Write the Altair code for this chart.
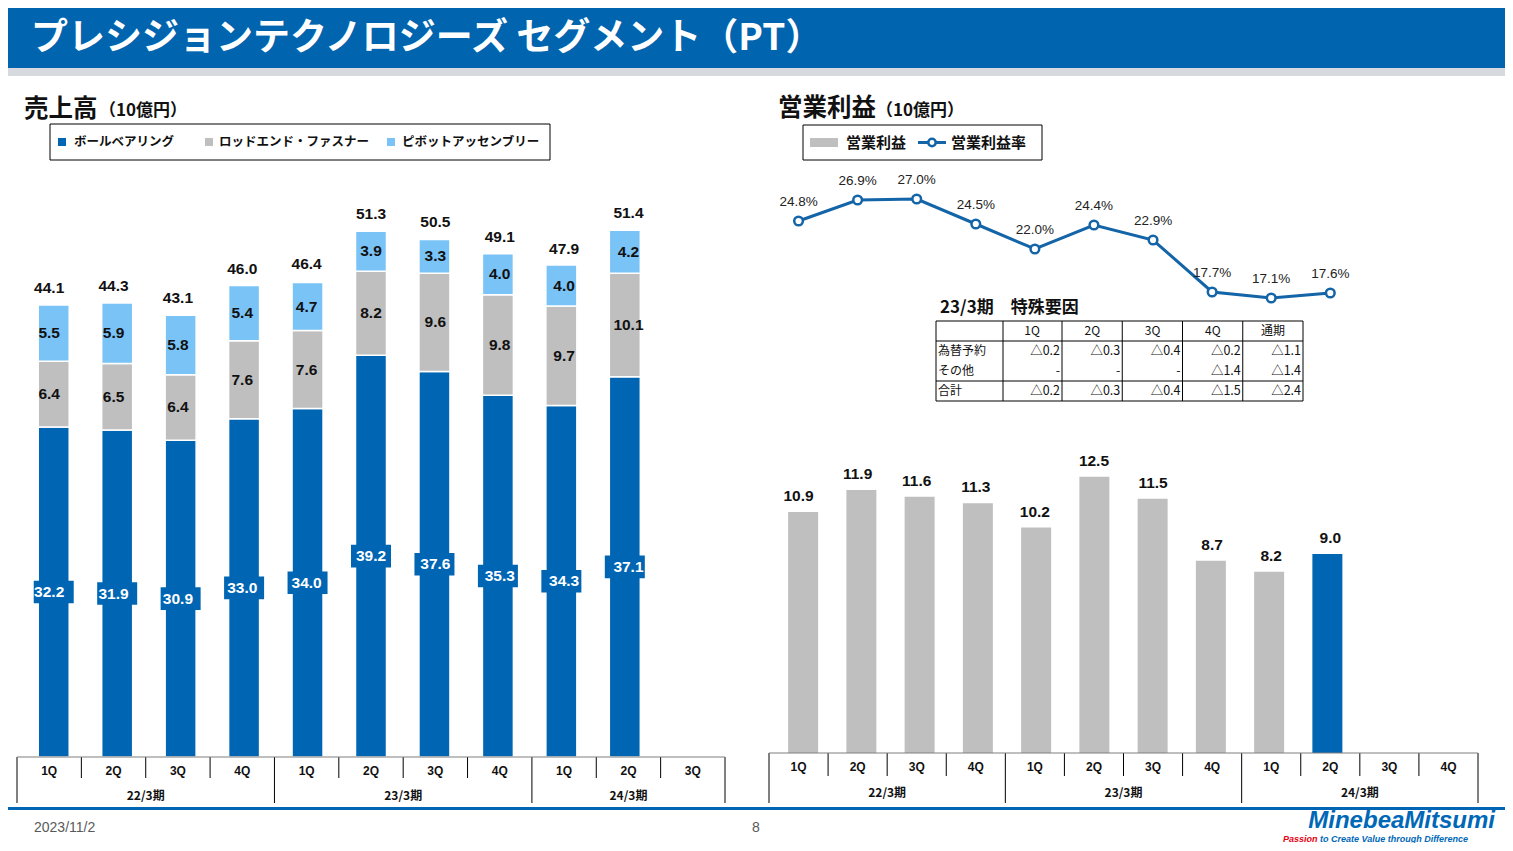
import altair as alt
import pandas as pd

# ---------------- data ----------------
periods_left = ["22/3期"] * 4 + ["23/3期"] * 4 + ["24/3期"] * 3
quarters_left = ["1Q", "2Q", "3Q", "4Q"] * 2 + ["1Q", "2Q", "3Q"]
series_names = ["ボールベアリング", "ロッドエンド・ファスナー", "ピボットアッセンブリー"]
ball = [32.2, 31.9, 30.9, 33.0, 34.0, 39.2, 37.6, 35.3, 34.3, 37.1]
rod = [6.4, 6.5, 6.4, 7.6, 7.6, 8.2, 9.6, 9.8, 9.7, 10.1]
pivot = [5.5, 5.9, 5.8, 5.4, 4.7, 3.9, 3.3, 4.0, 4.0, 4.2]
sales_total = [44.1, 44.3, 43.1, 46.0, 46.4, 51.3, 50.5, 49.1, 47.9, 51.4]

periods_right = ["22/3期"] * 4 + ["23/3期"] * 4 + ["24/3期"] * 4
quarters_right = ["1Q", "2Q", "3Q", "4Q"] * 3
op_income = [10.9, 11.9, 11.6, 11.3, 10.2, 12.5, 11.5, 8.7, 8.2, 9.0]
op_margin = [24.8, 26.9, 27.0, 24.5, 22.0, 24.4, 22.9, 17.7, 17.1, 17.6]
latest_index = 9
legend_right = ["営業利益", "営業利益率"]

table_title = "23/3期　特殊要因"
table_cols = ["1Q", "2Q", "3Q", "4Q", "通期"]
table_rows = ["為替予約", "その他", "合計"]
table_fx = ["△0.2", "△0.3", "△0.4", "△0.2", "△1.1"]
table_other = ["-", "-", "-", "△1.4", "△1.4"]
table_total = ["△0.2", "△0.3", "△0.4", "△1.5", "△2.4"]

title_text = "プレシジョンテクノロジーズ セグメント（PT）"
date_text = "2023/11/2"
page_text = "8"

# ---------------- style ----------------
OFF = 8
W, H = 1497, 835
BLUE = "#0066B3"
HEAD = "#0064AF"
LINE = "#1464A8"
GRAY = "#BFBFBF"
LBLUE = "#7AC3F6"
DARK = "#111111"
JP = "Noto Sans CJK JP"
LAT = "Liberation Sans"

base = alt.Chart(pd.DataFrame({"k": [0]}))


def T(text, x, y, size, color=DARK, weight="normal", font=JP, align="left", italic=False):
    kw = dict(text=text, align=align, baseline="middle", fontSize=size,
              fontWeight=weight, font=font, color=color)
    if italic:
        kw["fontStyle"] = "italic"
    return base.mark_text(**kw).encode(x=alt.value(x - OFF), y=alt.value(y - OFF))


def R(x1, x2, y1, y2, fill, stroke=None, sw=1):
    kw = dict(color=fill)
    if stroke:
        kw = dict(fill=fill, stroke=stroke, strokeWidth=sw)
    return base.mark_rect(**kw).encode(
        x=alt.value(x1 - OFF), x2=alt.value(x2 - OFF),
        y=alt.value(y1 - OFF), y2=alt.value(y2 - OFF))


def HL(x1, x2, y, color="#000000", sw=1):
    return base.mark_rule(color=color, strokeWidth=sw).encode(
        x=alt.value(x1 - OFF), x2=alt.value(x2 - OFF), y=alt.value(y - OFF))


def VL(x, y1, y2, color="#000000", sw=1):
    return base.mark_rule(color=color, strokeWidth=sw).encode(
        x=alt.value(x - OFF), y=alt.value(y1 - OFF), y2=alt.value(y2 - OFF))


layers = []

# ---------------- header / footer ----------------
layers.append(R(0, W + OFF * 2, 0, 68, HEAD))
layers.append(R(0, W + OFF * 2, 68, 76, "#D6D9DD"))
layers.append(T(title_text, 31, 39, 37, color="white", weight="bold"))
layers.append(HL(0, W + OFF * 2, 808.5, color=BLUE, sw=3))
layers.append(T(date_text, 34, 828, 14, color="#595959", font=LAT))
layers.append(T(page_text, 756, 828, 14, color="#595959", font=LAT, align="center"))
layers.append(T("MinebeaMitsumi", 1495, 821, 24, color="#0068B7", weight="bold",
                font=LAT, align="right", italic=True))
layers.append(T("Passion", 1283, 838.5, 9, color="#E60012", weight="bold", font=LAT, italic=True))
layers.append(T("to Create Value through Difference", 1320, 838.5, 9, color="#0068B7",
                weight="bold", font=LAT, italic=True))

# ---------------- section titles & legends ----------------
layers.append(T("売上高", 24, 110, 24.5, weight="bold"))
layers.append(T("（10億円）", 99, 111, 17, weight="bold"))
layers.append(T("営業利益", 778, 109, 24.5, weight="bold"))
layers.append(T("（10億円）", 876, 111, 17, weight="bold"))

layers.append(R(50, 550, 124, 160, "white", stroke="#000000", sw=1))
for sx, tx, col, name in [(62, 74, BLUE, series_names[0]),
                          (209, 219, GRAY, series_names[1]),
                          (391, 402, LBLUE, series_names[2])]:
    layers.append(R(sx - 4, sx + 4, 138, 146, col))
    layers.append(T(name, tx, 142, 12.5, weight="bold"))

layers.append(R(803, 1042, 125, 160, "white", stroke="#000000", sw=1))
layers.append(R(810, 838, 138, 147, GRAY))
layers.append(T(legend_right[0], 846, 143, 15, weight="bold"))
layers.append(HL(918, 946, 142.5, color=LINE, sw=3))
layers.append(base.mark_point(shape="circle", filled=True, fill="white", stroke=LINE,
                              strokeWidth=2.5, size=55, opacity=1).encode(
    x=alt.value(932 - OFF), y=alt.value(142.5 - OFF)))
layers.append(T(legend_right[1], 951, 143, 15, weight="bold"))

# ---------------- left chart: sales ----------------
xL = alt.Scale(domain=[-0.5, len(quarters_left) - 0.5], range=[17 - OFF, 725 - OFF], nice=False, zero=False)
yL = alt.Scale(domain=[0, 50], range=[757 - OFF, 757 - OFF - 512.5], nice=False, zero=False)

segs, lab_ball, lab_other, tot = [], [], [], []
for i, (b, r, p, t) in enumerate(zip(ball, rod, pivot, sales_total)):
    segs += [dict(i=i, s=series_names[0], y0=0, y1=b),
             dict(i=i, s=series_names[1], y0=b, y1=b + r),
             dict(i=i, s=series_names[2], y0=b + r, y1=b + r + p)]
    lab_ball.append(dict(i=i, m=b / 2, b0=b / 2 - 1.1, b1=b / 2 + 1.1, t=f"{b:.1f}"))
    lab_other += [dict(i=i, m=b + r / 2, t=f"{r:.1f}"), dict(i=i, m=b + r + p / 2, t=f"{p:.1f}")]
    tot.append(dict(i=i, v=t, t=f"{t:.1f}"))
segs, lab_ball, lab_other, tot = map(pd.DataFrame, (segs, lab_ball, lab_other, tot))

XL = alt.X("i:Q", scale=xL, axis=None)
layers.append(alt.Chart(segs).mark_bar(size=31, stroke="white", strokeWidth=1.5).encode(
    x=XL, y=alt.Y("y0:Q", scale=yL, axis=None), y2="y1:Q",
    color=alt.Color("s:N", scale=alt.Scale(domain=series_names, range=[BLUE, GRAY, LBLUE]), legend=None)))
layers.append(alt.Chart(lab_ball).mark_bar(size=40, color=BLUE).encode(
    x=XL, y=alt.Y("b0:Q", scale=yL, axis=None), y2="b1:Q"))
layers.append(alt.Chart(lab_ball).mark_text(color="white", fontWeight="bold", fontSize=15.5, font=LAT).encode(
    x=XL, y=alt.Y("m:Q", scale=yL, axis=None), text="t:N"))
layers.append(alt.Chart(lab_other).mark_text(color=DARK, fontWeight="bold", fontSize=15.5, font=LAT).encode(
    x=XL, y=alt.Y("m:Q", scale=yL, axis=None), text="t:N"))
layers.append(alt.Chart(tot).mark_text(color=DARK, fontWeight="bold", fontSize=15.5, font=LAT, dy=-17).encode(
    x=XL, y=alt.Y("v:Q", scale=yL, axis=None), text="t:N"))


def category_axis(periods, quarters, xs, y_top, y_short, y_long, y_q, y_p, x1, x2):
    out = []
    n = len(quarters)
    bnd = []
    for k in range(n + 1):
        long = k == 0 or k == n or periods[k] != periods[k - 1]
        bnd.append(dict(b=k - 0.5, long=long))
    bnd = pd.DataFrame(bnd)
    X = alt.X("b:Q", scale=xs, axis=None)
    out.append(alt.Chart(bnd[~bnd["long"]]).mark_rule(color="#000000", strokeWidth=1).encode(
        x=X, y=alt.value(y_top - OFF), y2=alt.value(y_short - OFF)))
    out.append(alt.Chart(bnd[bnd["long"]]).mark_rule(color="#000000", strokeWidth=1).encode(
        x=X, y=alt.value(y_top - OFF), y2=alt.value(y_long - OFF)))
    q = pd.DataFrame(dict(i=range(n), q=quarters))
    out.append(alt.Chart(q).mark_text(fontWeight="bold", fontSize=12, font=LAT, color=DARK).encode(
        x=alt.X("i:Q", scale=xs, axis=None), y=alt.value(y_q - OFF), text="q:N"))
    p = pd.DataFrame(dict(i=range(n), p=periods)).groupby("p", as_index=False)["i"].mean()
    out.append(alt.Chart(p).mark_text(fontWeight="bold", fontSize=12, font=JP, color=DARK).encode(
        x=alt.X("i:Q", scale=xs, axis=None), y=alt.value(y_p - OFF), text="p:N"))
    out.append(HL(x1, x2, y_top, color="#7F7F7F", sw=1))
    return out


layers += category_axis(periods_left, quarters_left, xL, 757, 778, 803, 771, 796, 17, 725)

# ---------------- right chart: operating income ----------------
xR = alt.Scale(domain=[-0.5, len(quarters_right) - 0.5], range=[769 - OFF, 1478 - OFF], nice=False, zero=False)
yR = alt.Scale(domain=[0, 12.5], range=[753 - OFF, 753 - OFF - 276.25], nice=False, zero=False)
yM = alt.Scale(domain=[15, 30], range=[319 - OFF, 169 - OFF], nice=False, zero=False)

dfR = pd.DataFrame(dict(i=range(len(op_income)), v=op_income, m=op_margin))
dfR["hl"] = ["y" if k == latest_index else "n" for k in dfR["i"]]
dfR["t"] = [f"{v:.1f}" for v in op_income]
dfR["mt"] = [f"{v:.1f}%" for v in op_margin]
XR = alt.X("i:Q", scale=xR, axis=None)

layers.append(alt.Chart(dfR).mark_bar(size=30).encode(
    x=XR, y=alt.Y("v:Q", scale=yR, axis=None),
    color=alt.Color("hl:N", scale=alt.Scale(domain=["n", "y"], range=[GRAY, BLUE]), legend=None)))
layers.append(alt.Chart(dfR).mark_text(color=DARK, fontWeight="bold", fontSize=15.5, font=LAT, dy=-16).encode(
    x=XR, y=alt.Y("v:Q", scale=yR, axis=None), text="t:N"))
layers += category_axis(periods_right, quarters_right, xR, 753, 776, 803, 767, 793, 769, 1478)

layers.append(alt.Chart(dfR).mark_line(color=LINE, strokeWidth=3).encode(
    x=XR, y=alt.Y("m:Q", scale=yM, axis=None)))
layers.append(alt.Chart(dfR).mark_point(shape="circle", filled=True, fill="white", stroke=LINE,
                                        strokeWidth=2.5, size=75, opacity=1).encode(
    x=XR, y=alt.Y("m:Q", scale=yM, axis=None)))
layers.append(alt.Chart(dfR).mark_text(color="#222222", fontSize=13.5, font=LAT, dy=-19).encode(
    x=XR, y=alt.Y("m:Q", scale=yM, axis=None), text="mt:N"))

# ---------------- table ----------------
layers.append(T(table_title, 940, 308, 17, weight="bold"))
TL, TR = 1062, 1303
tx = alt.Scale(domain=[0, 4], range=[TL - OFF, TR - OFF], nice=False, zero=False)
ty = alt.Scale(domain=[0, 3], range=[331 - OFF, 391 - OFF], nice=False, zero=False)
cells = []
for c, h in enumerate(table_cols):
    cells.append(dict(c=c, r=0, t=h, kind="head"))
for r, (lab, vals) in enumerate(zip(table_rows, [table_fx, table_other, table_total]), start=1):
    cells.append(dict(c=-1, r=r, t=lab, kind="row"))
    for c, v in enumerate(vals):
        cells.append(dict(c=c, r=r, t=v, kind="val"))
cells = pd.DataFrame(cells)
layers.append(alt.Chart(cells[cells.kind == "head"]).mark_text(fontSize=12, font=JP, color=DARK, dx=-30).encode(
    x=alt.X("c:Q", scale=tx, axis=None), y=alt.Y("r:Q", scale=ty, axis=None), text="t:N"))
layers.append(alt.Chart(cells[cells.kind == "val"]).mark_text(fontSize=12.5, font=JP, color=DARK, align="right", dx=-2).encode(
    x=alt.X("c:Q", scale=tx, axis=None), y=alt.Y("r:Q", scale=ty, axis=None), text="t:N"))
layers.append(alt.Chart(cells[cells.kind == "row"]).mark_text(fontSize=12, font=JP, color=DARK, align="left").encode(
    x=alt.value(938 - OFF), y=alt.Y("r:Q", scale=ty, axis=None), text="t:N"))
for yy in [321, 341, 381, 401]:
    layers.append(HL(936, TR, yy, color="#000000", sw=1))
for xx in [936, 1003] + [TL + k * (TR - TL) / 4 for k in range(5)]:
    layers.append(VL(xx, 321, 401, color="#000000", sw=1))

chart = alt.layer(*layers).resolve_scale(
    x="independent", y="independent", color="independent"
).properties(width=W, height=H, padding=0, autosize="none").configure_view(stroke=None)

chart.save("out.html", embed_options={"renderer": "svg", "actions": False})
